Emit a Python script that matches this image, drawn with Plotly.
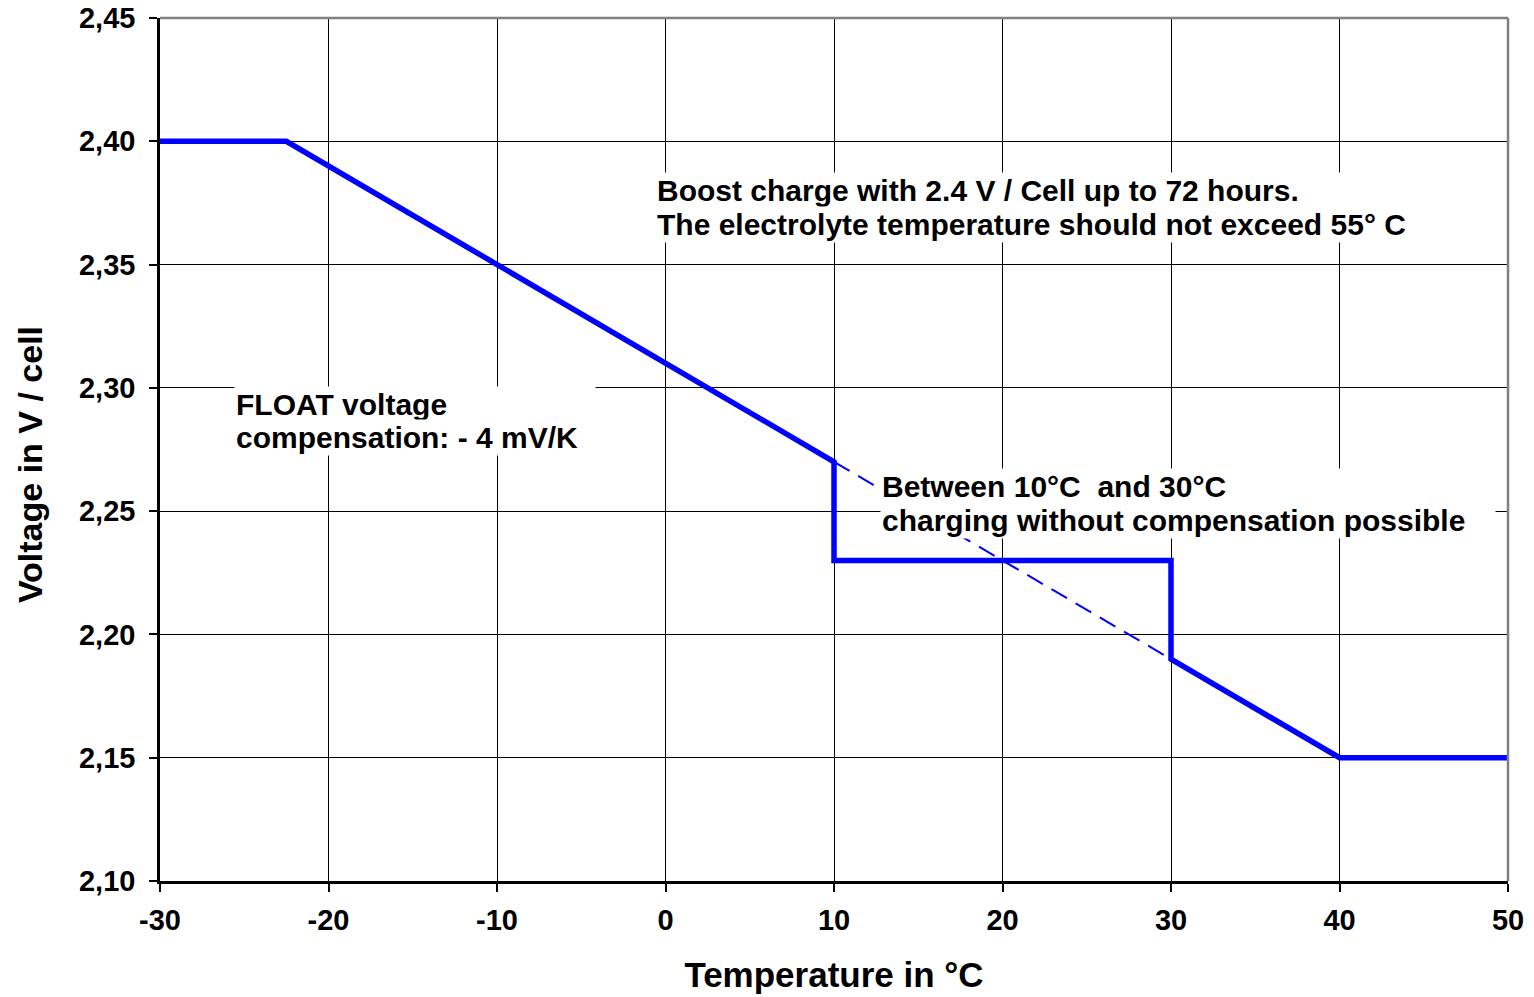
import plotly.graph_objects as go

# Charge voltage per cell versus electrolyte temperature
temps = [-30, -22.5, 10, 10, 30, 30, 40, 50]
volts = [2.40, 2.40, 2.27, 2.23, 2.23, 2.19, 2.15, 2.15]

# Compensated curve continued through the 10..30 °C window
comp_temps = [10, 30]
comp_volts = [2.27, 2.19]

x_ticks = [-30, -20, -10, 0, 10, 20, 30, 40, 50]
y_ticks = [2.10, 2.15, 2.20, 2.25, 2.30, 2.35, 2.40, 2.45]
y_tick_text = ["2,10", "2,15", "2,20", "2,25", "2,30", "2,35", "2,40", "2,45"]

FONT = "Arial, Liberation Sans, sans-serif"
BLUE = "#0000ff"

fig = go.Figure()
fig.add_trace(go.Scatter(
    x=comp_temps, y=comp_volts, mode="lines",
    line=dict(color=BLUE, width=2, dash="18px,10px"),
    showlegend=False, hoverinfo="skip",
))
fig.add_trace(go.Scatter(
    x=temps, y=volts, mode="lines",
    line=dict(color=BLUE, width=5.5),
    showlegend=False,
))

# Text notes: one white-backed box per line, sharing the width of the block
note_font = dict(family=FONT, size=30, color="black")
note_blocks = [
    (-25.6, [2.2933, 2.2798], 358,
     ["FLOAT voltage", "compensation: - 4 mV/K"]),
    (-0.6, [2.3800, 2.3662], 790,
     ["Boost charge with 2.4 V / Cell up to 72 hours.",
      "The electrolyte temperature should not exceed 55° C"]),
    (12.7, [2.2600, 2.2462], 612,
     ["Between 10°C  and 30°C", "charging without compensation possible"]),
]
for x, ys, w, lines in note_blocks:
    for y, txt in zip(ys, lines):
        fig.add_annotation(
            x=x, y=y, xref="x", yref="y", text=f"<b>{txt}</b>", showarrow=False,
            xanchor="left", yanchor="middle", align="left", width=w,
            font=note_font, bgcolor="white", borderpad=1,
        )

# Vertical axis title
fig.add_annotation(
    x=-0.0964, y=0.482, xref="paper", yref="paper", text="<b>Voltage in V / cell</b>",
    textangle=-90, showarrow=False, xanchor="center", yanchor="middle",
    font=dict(family=FONT, size=34, color="black"),
)

# Grey frame along the top and right edges of the plot area
fig.add_shape(type="line", xref="x domain", yref="y domain", x0=0, x1=1, y0=1, y1=1,
              line=dict(color="#808080", width=2.5), layer="above")
fig.add_shape(type="line", xref="x domain", yref="y domain", x0=1, x1=1, y0=0, y1=1,
              line=dict(color="#808080", width=2.5), layer="above")

fig.update_layout(
    width=1534, height=997,
    margin=dict(l=160, r=26, t=18, b=116),
    paper_bgcolor="white", plot_bgcolor="white",
    font=dict(family=FONT, color="black"),
)
fig.update_xaxes(
    range=[-30, 50], tickvals=x_ticks, ticktext=[f"<b>{t}</b>" for t in x_ticks],
    tickfont=dict(family=FONT, size=29, color="black"),
    ticks="outside", ticklen=8, tickcolor="black", tickwidth=1.5,
    ticklabelstandoff=3, automargin=False,
    showgrid=True, gridcolor="black", gridwidth=1.3,
    showline=True, linecolor="black", linewidth=2.5,
    zeroline=False,
    title=dict(text="<b>Temperature in °C</b>", font=dict(family=FONT, size=35), standoff=28),
)
fig.update_yaxes(
    range=[2.10, 2.45], tickvals=y_ticks, ticktext=[f"<b>{t}</b>" for t in y_tick_text],
    tickfont=dict(family=FONT, size=29, color="black"),
    ticks="outside", ticklen=8, tickcolor="black", tickwidth=1.5,
    ticklabelstandoff=8, automargin=False,
    showgrid=True, gridcolor="black", gridwidth=1.3,
    showline=True, linecolor="black", linewidth=2.5,
    zeroline=False,
)

fig.write_html("out.html")
